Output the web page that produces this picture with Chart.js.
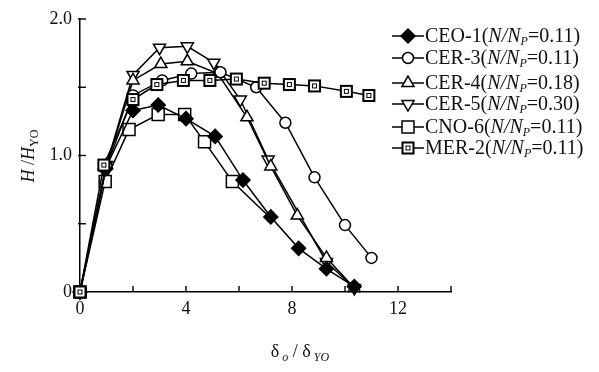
<!DOCTYPE html>
<html><head><meta charset="utf-8">
<script src="https://cdn.jsdelivr.net/npm/chart.js@4"></script>
<style>html,body{margin:0;padding:0;background:#fff}#wrap{width:599px;height:372px;position:relative}</style>
</head><body><div id="wrap"><canvas id="c" width="599" height="372"></canvas></div>
<script>
// ---- data ----
const seriesNames  = ['CEO-1', 'CER-3', 'CER-4', 'CER-5', 'CNO-6', 'MER-2'];
const seriesRatios = ['0.11', '0.11', '0.18', '0.30', '0.11', '0.11'];

const ceo1X = [0, 0.95, 2.0, 2.95, 4.0, 5.1, 6.15, 7.2, 8.25, 9.3, 10.35];
const ceo1Y = [0, 0.90, 1.33, 1.37, 1.27, 1.14, 0.82, 0.55, 0.32, 0.17, 0.04];

const cer3X = [0, 1.0, 2.0, 3.1, 4.2, 5.3, 6.65, 7.75, 8.85, 10.0, 11.0];
const cer3Y = [0, 0.92, 1.44, 1.55, 1.60, 1.61, 1.50, 1.24, 0.84, 0.49, 0.25];

const cer4X = [0, 1.0, 2.0, 3.05, 4.05, 5.2, 6.3, 7.2, 8.2, 9.3, 10.35];
const cer4Y = [0, 0.93, 1.55, 1.67, 1.69, 1.60, 1.28, 0.92, 0.56, 0.25, 0.03];

const cer5X = [0, 1.0, 2.0, 3.0, 4.05, 5.05, 6.05, 7.1, 9.3, 10.35];
const cer5Y = [0, 0.93, 1.59, 1.79, 1.80, 1.68, 1.41, 0.97, 0.22, 0.03];

const cno6X = [0, 0.95, 1.85, 2.95, 3.95, 4.7, 5.75, 7.15];
const cno6Y = [0, 0.81, 1.19, 1.30, 1.30, 1.10, 0.81, 0.55];

const mer2X = [0, 0.9, 2.0, 2.9, 3.9, 4.9, 5.9, 6.95, 7.9, 8.85, 10.05, 10.9];
const mer2Y = [0, 0.93, 1.41, 1.52, 1.55, 1.55, 1.56, 1.53, 1.52, 1.51, 1.47, 1.44];

const xTickLabels = {0: '0', 4: '4', 8: '8', 12: '12'};
const yTickLabels = {0: '0', 1: '1.0', 2: '2.0'};

// ---- styling ----
const SERIF = "'Liberation Serif','DejaVu Serif',serif";
function pts(xs, ys) { return xs.map((x, i) => ({x: x, y: ys[i]})); }

// double-square marker for MER-2
const dblSq = document.createElement('canvas');
dblSq.width = 15; dblSq.height = 15;
(function () {
  const g = dblSq.getContext('2d');
  g.fillStyle = '#fff'; g.fillRect(1, 1, 13, 13);
  g.strokeStyle = '#000'; g.lineWidth = 2;
  g.strokeRect(2, 2, 11, 11);
  g.lineWidth = 1;
  g.strokeRect(5.5, 5.5, 4, 4);
})();

const markerStyles = {
  'CEO-1': {pointStyle: 'rectRot', radius: 7, rotation: 0, fill: '#000'},
  'CER-3': {pointStyle: 'circle', radius: 5.5, rotation: 0, fill: '#fff'},
  'CER-4': {pointStyle: 'triangle', radius: 7, rotation: 0, fill: '#fff'},
  'CER-5': {pointStyle: 'triangle', radius: 7, rotation: 180, fill: '#fff'},
  'CNO-6': {pointStyle: 'rect', radius: 8.5, rotation: 0, fill: '#fff'},
  'MER-2': {pointStyle: dblSq, radius: 7, rotation: 0, fill: '#fff'}
};

function ds(name, data, radiusArr) {
  const m = markerStyles[name];
  return {
    label: name, data: data, showLine: true,
    borderColor: '#000', borderWidth: 1.5, backgroundColor: m.fill,
    pointStyle: m.pointStyle, pointRadius: radiusArr || m.radius, pointRotation: m.rotation,
    pointBorderColor: '#000', pointBackgroundColor: m.fill, pointBorderWidth: 1.5,
    pointHoverRadius: m.radius, clip: false, tension: 0
  };
}

const cno6Radius = cno6X.map((x, i) => i === cno6X.length - 1 ? 0 : 8.5);

// draw order: first dataset on top
const datasets = [
  ds('MER-2', pts(mer2X, mer2Y)),
  ds('CEO-1', pts(ceo1X, ceo1Y)),
  ds('CER-3', pts(cer3X, cer3Y)),
  ds('CER-4', pts(cer4X, cer4Y)),
  ds('CER-5', pts(cer5X, cer5Y)),
  ds('CNO-6', pts(cno6X, cno6Y), cno6Radius)
];

function drawRuns(ctx, runs, x, y, align) {
  let total = 0;
  runs.forEach(r => { ctx.font = r.font; total += ctx.measureText(r.t).width; });
  let cx = align === 'center' ? x - total / 2 : x;
  ctx.textAlign = 'left'; ctx.textBaseline = 'alphabetic';
  runs.forEach(r => {
    ctx.font = r.font;
    ctx.fillText(r.t, cx, y + (r.dy || 0));
    cx += ctx.measureText(r.t).width;
  });
}

const decorPlugin = {
  id: 'decor',
  afterDraw(chart) {
    const ctx = chart.ctx;
    const xs = chart.scales.x, ys = chart.scales.y;
    const ca = chart.chartArea;
    ctx.save();
    ctx.strokeStyle = '#000'; ctx.lineWidth = 1.4;
    // inward ticks
    xs.ticks.forEach(t => {
      if (t.value === 0) return;
      const px = xs.getPixelForValue(t.value);
      ctx.beginPath(); ctx.moveTo(px, ca.bottom); ctx.lineTo(px, ca.bottom - 6); ctx.stroke();
    });
    ys.ticks.forEach(t => {
      if (t.value === 0) return;
      const py = ys.getPixelForValue(t.value);
      ctx.beginPath(); ctx.moveTo(ca.left - 2, py); ctx.lineTo(ca.left + 6, py); ctx.stroke();
    });

    ctx.fillStyle = '#111';
    // x title
    drawRuns(ctx, [
      {t: 'δ', font: '18px ' + SERIF},
      {t: ' o', font: 'italic 12px ' + SERIF, dy: 4},
      {t: ' / δ', font: '18px ' + SERIF},
      {t: ' YO', font: 'italic 12px ' + SERIF, dy: 4}
    ], 300, 357, 'center');

    // y title (rotated)
    ctx.save();
    ctx.translate(34, 156);
    ctx.rotate(-Math.PI / 2);
    drawRuns(ctx, [
      {t: 'H', font: 'italic 18px ' + SERIF},
      {t: ' /', font: '18px ' + SERIF},
      {t: 'H', font: 'italic 18px ' + SERIF},
      {t: 'YO', font: '12px ' + SERIF, dy: 4}
    ], 0, 0, 'center');
    ctx.restore();

    // legend
    const rowsY = [36, 58, 83, 104, 127, 148];
    seriesNames.forEach((name, i) => {
      const y = rowsY[i];
      const m = markerStyles[name];
      ctx.strokeStyle = '#000'; ctx.lineWidth = 1.5;
      ctx.beginPath(); ctx.moveTo(392, y); ctx.lineTo(424, y); ctx.stroke();
      ctx.fillStyle = m.fill;
      Chart.helpers.drawPoint(ctx, {pointStyle: m.pointStyle, radius: m.radius, rotation: m.rotation, borderWidth: 1.5}, 408, y);
      ctx.fillStyle = '#111';
      drawRuns(ctx, [
        {t: name + '(', font: '20px ' + SERIF},
        {t: 'N/N', font: 'italic 20px ' + SERIF},
        {t: 'P', font: 'italic 12px ' + SERIF, dy: 3},
        {t: '=' + seriesRatios[i] + ')', font: '20px ' + SERIF}
      ], 425, y + 6, 'left');
    });
    ctx.restore();
  }
};

new Chart(document.getElementById('c'), {
  type: 'scatter',
  data: {datasets: datasets},
  options: {
    responsive: false, devicePixelRatio: 1, animation: false,
    layout: {padding: {left: 0, top: 19, right: 148, bottom: 0}},
    plugins: {legend: {display: false}, tooltip: {enabled: false}},
    scales: {
      x: {
        type: 'linear', min: 0, max: 14,
        ticks: {stepSize: 2, autoSkip: false, maxRotation: 0, padding: 6, color: '#111',
          font: {family: SERIF, size: 18},
          callback: v => (xTickLabels[v] !== undefined ? xTickLabels[v] : '')},
        grid: {drawOnChartArea: false, drawTicks: false},
        border: {display: true, color: '#000', width: 1.5},
        afterFit: s => { s.height = 80; }
      },
      y: {
        type: 'linear', min: 0, max: 2,
        ticks: {stepSize: 0.5, autoSkip: false, padding: 8, color: '#111',
          font: {family: SERIF, size: 18},
          callback: v => (yTickLabels[v] !== undefined ? yTickLabels[v] : '')},
        grid: {drawOnChartArea: false, drawTicks: false},
        border: {display: true, color: '#000', width: 1.5},
        afterFit: s => { s.width = 80; }
      }
    }
  },
  plugins: [decorPlugin]
});
</script>
</body></html>
